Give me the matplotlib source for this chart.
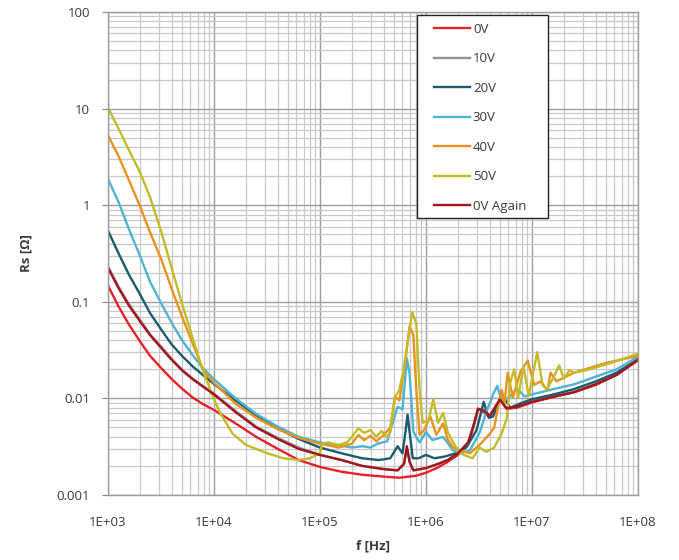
import numpy as np
import matplotlib
matplotlib.use("Agg")
import matplotlib.pyplot as plt
import matplotlib.ticker as mt
from matplotlib.patches import Rectangle

# series: frequency [Hz] and Rs [ohm]
f_0v = [1.0e3, 1.26e3, 1.58e3, 2.0e3, 2.5e3, 3.2e3, 4.0e3, 5.0e3, 6.3e3, 7.9e3, 1.0e4,
        1.6e4, 2.5e4, 4.0e4, 6.3e4, 1.0e5, 1.6e5, 2.5e5, 4.0e5, 5.6e5, 8.0e5, 1.0e6,
        1.26e6, 1.6e6, 2.0e6, 2.5e6, 2.8e6, 3.1e6, 3.5e6, 4.0e6, 4.7e6, 5.0e6, 5.75e6,
        7.2e6, 1.0e7, 1.6e7, 2.5e7, 4.0e7, 6.3e7, 1.0e8]
r_0v = [0.147, 0.089, 0.058, 0.039, 0.0275, 0.0204, 0.0158, 0.0126, 0.0102, 0.0087, 0.0076,
        0.0055, 0.0040, 0.0030, 0.0023, 0.00195, 0.00174, 0.00162, 0.00155, 0.00151, 0.00158, 0.0017,
        0.0019, 0.0022, 0.0026, 0.0034, 0.0050, 0.0078, 0.0072, 0.0064, 0.0088, 0.0098, 0.0078,
        0.0080, 0.0091, 0.0104, 0.0116, 0.0138, 0.0176, 0.0248]

f_10v = [1.0e3, 1.26e3, 1.58e3, 2.0e3, 2.5e3, 3.2e3, 4.0e3, 5.0e3, 6.3e3, 7.9e3, 1.0e4,
         1.6e4, 2.5e4, 4.0e4, 6.3e4, 1.0e5, 1.6e5, 2.5e5, 4.0e5, 5.4e5, 6.2e5, 6.6e5, 7.0e5,
         7.6e5, 1.0e6, 1.3e6, 1.6e6, 2.0e6, 2.5e6, 2.8e6, 3.1e6, 3.5e6, 4.0e6, 4.7e6, 5.0e6,
         5.75e6, 7.2e6, 1.0e7, 1.6e7, 2.5e7, 4.0e7, 6.3e7, 1.0e8]
r_10v = [0.232, 0.143, 0.094, 0.065, 0.046, 0.034, 0.0255, 0.0198, 0.016, 0.0134, 0.0112,
         0.0074, 0.0051, 0.0039, 0.0031, 0.0026, 0.0023, 0.0020, 0.00186, 0.0018, 0.0021, 0.0030, 0.0022,
         0.0018, 0.0019, 0.0021, 0.0023, 0.0027, 0.0035, 0.0052, 0.0078, 0.0074, 0.0066, 0.0087, 0.0096,
         0.0079, 0.0082, 0.0093, 0.0105, 0.0117, 0.0141, 0.0176, 0.0251]

f_20v = [1.0e3, 1.26e3, 1.58e3, 2.0e3, 2.5e3, 3.2e3, 4.0e3, 5.0e3, 6.3e3, 7.9e3, 1.0e4,
         1.6e4, 2.5e4, 4.0e4, 6.3e4, 1.0e5, 1.6e5, 2.5e5, 3.6e5, 4.6e5, 5.4e5, 6.0e5, 6.4e5,
         6.7e5, 7.0e5, 7.5e5, 8.5e5, 1.0e6, 1.2e6, 1.5e6, 1.9e6, 2.4e6, 3.0e6, 3.5e6, 3.9e6,
         4.3e6, 4.7e6, 5.2e6, 6.2e6, 8.0e6, 1.0e7, 1.6e7, 2.5e7, 4.0e7, 6.3e7, 1.0e8]
r_20v = [0.545, 0.316, 0.19, 0.12, 0.076, 0.051, 0.036, 0.0275, 0.0214, 0.0174, 0.0141,
         0.0095, 0.0067, 0.0049, 0.0038, 0.0031, 0.0027, 0.0024, 0.0023, 0.0024, 0.0032, 0.0027, 0.0045,
         0.0068, 0.0045, 0.0024, 0.0024, 0.0026, 0.0024, 0.0025, 0.0027, 0.0031, 0.0047, 0.0092, 0.0063,
         0.0065, 0.0085, 0.0112, 0.0080, 0.0090, 0.0098, 0.0110, 0.0125, 0.0150, 0.0185, 0.0255]

f_30v = [1.0e3, 1.26e3, 1.58e3, 2.0e3, 2.5e3, 3.2e3, 4.0e3, 5.0e3, 6.3e3, 7.9e3, 1.0e4,
         1.6e4, 2.5e4, 4.0e4, 6.3e4, 1.0e5, 1.4e5, 2.0e5, 2.5e5, 3.0e5, 3.5e5, 4.3e5, 4.9e5,
         5.4e5, 6.0e5, 6.6e5, 7.0e5, 7.6e5, 8.7e5, 1.0e6, 1.15e6, 1.45e6, 1.8e6, 2.1e6, 2.6e6,
         3.2e6, 3.7e6, 4.3e6, 4.7e6, 5.2e6, 6.2e6, 7.2e6, 8.5e6, 1.0e7, 1.6e7, 2.5e7, 4.0e7,
         6.3e7, 1.0e8]
r_30v = [1.87, 1.07, 0.56, 0.30, 0.16, 0.095, 0.060, 0.040, 0.028, 0.0204, 0.0158,
         0.0100, 0.0069, 0.0051, 0.0040, 0.0035, 0.0033, 0.0031, 0.0032, 0.0031, 0.0034, 0.0036, 0.0058,
         0.0082, 0.0077, 0.026, 0.018, 0.0045, 0.0035, 0.0045, 0.0037, 0.0040, 0.0029, 0.0027, 0.0029,
         0.0044, 0.0072, 0.0110, 0.0135, 0.0092, 0.0105, 0.0127, 0.0105, 0.0110, 0.0125, 0.0140, 0.0168,
         0.0200, 0.0270]

f_40v = [1.0e3, 1.26e3, 1.58e3, 2.0e3, 2.5e3, 3.2e3, 4.0e3, 5.0e3, 6.3e3, 7.9e3, 1.0e4,
         1.6e4, 2.5e4, 4.0e4, 6.3e4, 1.0e5, 1.5e5, 2.0e5, 2.3e5, 2.6e5, 3.0e5, 3.4e5, 4.0e5,
         4.6e5, 5.1e5, 5.6e5, 6.4e5, 7.0e5, 7.6e5, 8.1e5, 8.7e5, 9.6e5, 1.1e6, 1.25e6, 1.45e6,
         1.6e6, 1.8e6, 2.1e6, 2.6e6, 3.2e6, 4.0e6, 4.4e6, 4.8e6, 5.2e6, 5.5e6, 5.9e6, 6.6e6,
         7.8e6, 9.1e6, 1.05e7, 1.2e7, 1.4e7, 1.5e7, 1.7e7, 2.5e7, 5.0e7, 1.0e8]
r_40v = [5.3, 3.2, 1.8, 0.98, 0.52, 0.27, 0.135, 0.070, 0.037, 0.0195, 0.0145,
         0.0088, 0.0063, 0.0048, 0.0039, 0.0034, 0.0031, 0.0034, 0.0042, 0.0037, 0.0041, 0.0036, 0.0042,
         0.0050, 0.0105, 0.0095, 0.025, 0.056, 0.045, 0.0122, 0.0042, 0.0047, 0.0065, 0.0042, 0.0055,
         0.0038, 0.0031, 0.0029, 0.0027, 0.0033, 0.0043, 0.0050, 0.0083, 0.0122, 0.0090, 0.0185, 0.0102,
         0.0190, 0.0245, 0.0138, 0.0150, 0.0122, 0.0185, 0.0150, 0.0185, 0.0233, 0.0275]

f_50v = [1.0e3, 1.26e3, 1.58e3, 2.0e3, 2.5e3, 3.2e3, 4.0e3, 5.0e3, 6.3e3, 7.9e3, 1.0e4,
         1.15e4, 1.5e4, 2.0e4, 3.2e4, 4.5e4, 6.3e4, 8.0e4, 1.0e5, 1.05e5, 1.2e5, 1.5e5, 1.8e5,
         2.0e5, 2.3e5, 2.6e5, 3.0e5, 3.4e5, 3.8e5, 4.3e5, 4.6e5, 5.1e5, 5.6e5, 6.2e5, 6.6e5,
         7.4e5, 8.1e5, 8.7e5, 9.3e5, 1.05e6, 1.17e6, 1.3e6, 1.45e6, 1.6e6, 1.8e6, 2.1e6, 2.75e6,
         3.2e6, 3.7e6, 4.4e6, 5.2e6, 5.8e6, 6.2e6, 6.8e6, 7.4e6, 8.3e6, 9.3e6, 1.12e7, 1.26e7,
         1.38e7, 1.6e7, 1.8e7, 2.0e7, 2.25e7, 2.5e7, 3.2e7, 5.1e7, 1.0e8]
r_50v = [10.2, 6.2, 3.7, 2.2, 1.2, 0.52, 0.22, 0.095, 0.042, 0.019, 0.0098,
         0.0070, 0.0043, 0.0033, 0.0027, 0.0024, 0.0023, 0.0024, 0.0027, 0.0034, 0.0035, 0.0033, 0.0035,
         0.0040, 0.0049, 0.0044, 0.0047, 0.0040, 0.0046, 0.0040, 0.0045, 0.0103, 0.0122, 0.021, 0.034,
         0.078, 0.060, 0.0122, 0.0056, 0.0058, 0.0097, 0.0056, 0.0071, 0.0045, 0.0035, 0.0027, 0.0024,
         0.0031, 0.0028, 0.0031, 0.0044, 0.0063, 0.0143, 0.020, 0.0102, 0.0215, 0.0106, 0.030, 0.0138,
         0.0124, 0.0165, 0.022, 0.016, 0.0195, 0.0185, 0.0195, 0.0226, 0.029]

f_0v2 = [1.0e3, 1.26e3, 1.58e3, 2.0e3, 2.5e3, 3.2e3, 4.0e3, 5.0e3, 6.3e3, 7.9e3, 1.0e4,
         1.6e4, 2.5e4, 4.0e4, 6.3e4, 1.0e5, 1.6e5, 2.5e5, 4.0e5, 5.4e5, 6.2e5, 6.6e5, 7.0e5,
         7.6e5, 1.0e6, 1.3e6, 1.6e6, 2.0e6, 2.5e6, 2.8e6, 3.1e6, 3.5e6, 4.0e6, 4.7e6, 5.0e6,
         5.75e6, 7.2e6, 1.0e7, 1.6e7, 2.5e7, 4.0e7, 6.3e7, 1.0e8]
r_0v2 = [0.224, 0.138, 0.091, 0.063, 0.045, 0.033, 0.025, 0.0195, 0.0158, 0.0132, 0.011,
         0.0072, 0.0050, 0.0038, 0.0030, 0.0026, 0.0023, 0.0020, 0.00185, 0.0018, 0.0021, 0.0032, 0.0022,
         0.0018, 0.0019, 0.0021, 0.0023, 0.0027, 0.0035, 0.0052, 0.0078, 0.0075, 0.0066, 0.0088, 0.0097,
         0.0079, 0.0082, 0.0092, 0.0104, 0.0116, 0.0140, 0.0175, 0.0250]

labels = ["0V", "10V", "20V", "30V", "40V", "50V", "0V Again"]
colors = ["#e8202a", "#8c9096", "#1b5b72", "#4fb3d2", "#e8941c", "#c3bb27", "#a3141c"]

x_ticks = [1e3, 1e4, 1e5, 1e6, 1e7, 1e8]
y_ticks = [0.001, 0.01, 0.1, 1, 10, 100]
y_ticklabels = ["0.001", "0.01", "0.1", "1", "10", "100"]

plt.rcParams['font.family'] = ['Open Sans', 'DejaVu Sans']

W, H = 679, 560
fig = plt.figure(figsize=(W / 100, H / 100), dpi=100)
ax = fig.add_axes([108 / W, 1 - 495 / H, 530 / W, 483 / H])

series = [(f_0v, r_0v), (f_10v, r_10v), (f_20v, r_20v), (f_30v, r_30v),
          (f_40v, r_40v), (f_50v, r_50v), (f_0v2, r_0v2)]
for (f, r), lab, c in zip(series, labels, colors):
    ax.plot(f, r, color=c, lw=1.7, label=lab, solid_joinstyle='round')

ax.set_xscale('log')
ax.set_yscale('log')
ax.set_xlim(1e3, 1e8)
ax.set_ylim(1e-3, 100)

ax.xaxis.set_major_locator(mt.FixedLocator(x_ticks))
ax.xaxis.set_major_formatter(mt.FuncFormatter(lambda v, p: "1E+%02d" % round(np.log10(v))))
ax.yaxis.set_major_locator(mt.FixedLocator(y_ticks))
ax.yaxis.set_major_formatter(mt.FixedFormatter(y_ticklabels))
for a in (ax.xaxis, ax.yaxis):
    a.set_minor_locator(mt.LogLocator(base=10, subs=np.arange(2, 10), numticks=50))
    a.set_minor_formatter(mt.NullFormatter())

ax.grid(True, which='minor', color='#c8c8c8', lw=0.9)
ax.grid(True, which='major', color='#9d9d9d', lw=1.0)
ax.set_axisbelow(True)

ax.tick_params(axis='x', which='both', length=0, pad=15, labelsize=9.5, colors='#3a3a3a')
ax.tick_params(axis='y', which='major', length=4, width=0.8, color='#888888', pad=9,
               labelsize=9.5, labelcolor='#3a3a3a')
ax.tick_params(axis='y', which='minor', length=0)
for s in ax.spines.values():
    s.set_color('#9d9d9d')
    s.set_linewidth(1.0)

ax.set_xlabel("f [Hz]", fontsize=9.5, fontweight='bold', color='#3a3a3a', labelpad=8)
ax.set_ylabel("Rs [Ω]", fontsize=9.5, fontweight='bold', color='#3a3a3a', labelpad=17)

# legend box drawn by hand so padding matches
frame = Rectangle((417 / W, 1 - 218 / H), 131 / W, 203 / H, transform=fig.transFigure,
                  facecolor='white', edgecolor='#222222', lw=1.0, zorder=4, clip_on=False)
ax.add_patch(frame)
leg = ax.legend(loc='upper left', bbox_to_anchor=(434 / W, 1 - 23 / H),
                bbox_transform=fig.transFigure, frameon=False, fontsize=9.5,
                handlelength=2.75, handletextpad=0.2, labelspacing=1.25, borderpad=0,
                borderaxespad=0)
leg.set_zorder(5)
for t in leg.get_texts():
    t.set_color('#3a3a3a')

fig.savefig("out.png", dpi=100)
